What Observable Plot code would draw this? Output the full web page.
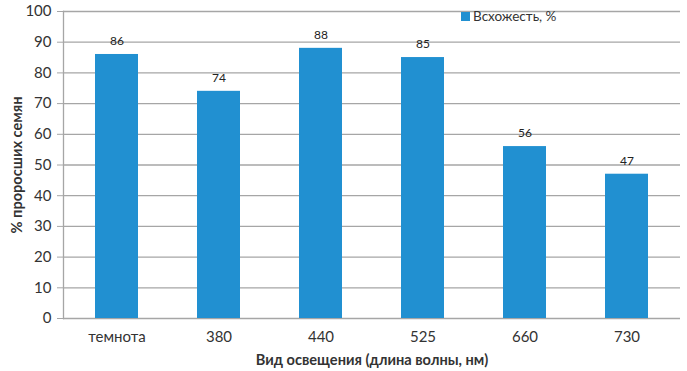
<!DOCTYPE html>
<html><head><meta charset="utf-8">
<script src="https://cdn.jsdelivr.net/npm/d3@7"></script>
<script src="https://cdn.jsdelivr.net/npm/@observablehq/plot@0.6"></script>
<style>
body{margin:0;background:#fff;font-family:Lato,"Open Sans",sans-serif;}
#wrap{position:relative;width:687px;height:371px;}
#legend{position:absolute;left:461px;top:8px;font-size:13.5px;color:#333;display:flex;align-items:center;}
#legend span.sw{display:inline-block;width:9px;height:9px;background:#2190d1;margin-right:3px;}
</style></head>
<body><div id="wrap"><div id="legend"><span class="sw"></span>Всхожесть, %</div></div>
<script>
const categories = ["темнота","380","440","525","660","730"];
const values = [86,74,88,85,56,47];
const yTicks = [0,10,20,30,40,50,60,70,80,90,100];
const seriesName = "Всхожесть, %";
const data = categories.map((c,i)=>({cat:c, v:values[i]}));
const plot = Plot.plot({
  width:687, height:371,
  marginLeft:63, marginRight:7, marginTop:11, marginBottom:53,
  style:{fontFamily:"Lato, 'Open Sans', sans-serif", fontSize:"15px", color:"#333", background:"#fff"},
  x:{domain:categories, paddingInner:0.58, paddingOuter:0.29, label:"Вид освещения (длина волны, нм)"},
  y:{domain:[0,100], ticks:yTicks, label:"% проросших семян"},
  marks:[
    Plot.gridY(yTicks,{stroke:"#a6a6a6", strokeOpacity:1, strokeWidth:1.3}),
    Plot.axisY({ticks:yTicks, tickSize:6, tickPadding:6, fontSize:15, stroke:"#a6a6a6", label:"% проросших семян", labelAnchor:"center", labelArrow:"none", labelOffset:52}),
    Plot.axisX({tickSize:0, tickPadding:13, fontSize:15, label:"Вид освещения (длина волны, нм)", labelAnchor:"center", labelArrow:"none", labelOffset:46}),
    Plot.frame({anchor:"left", stroke:"#a6a6a6", strokeWidth:1.3}),
    Plot.barY(data,{x:"cat", y:"v", fill:"#2190d1"}),
    Plot.text(data,{x:"cat", y:"v", text:d=>String(d.v), dy:-13, fontSize:12, fill:"#222"})
  ]
});
plot.querySelectorAll('[aria-label="y-axis label"] text, [aria-label="x-axis label"] text').forEach(t=>{t.style.fontWeight="bold";t.style.fontSize="14.6px";});
document.getElementById("wrap").prepend(plot);
</script></body></html>
